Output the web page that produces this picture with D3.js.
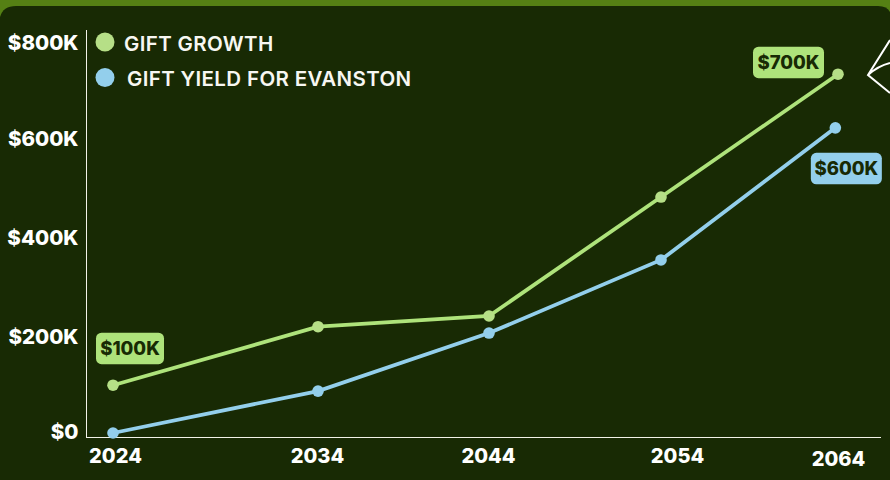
<!DOCTYPE html>
<html>
<head>
<meta charset="utf-8">
<script src="https://cdn.jsdelivr.net/npm/d3@7"></script>
<style>
  body { margin: 0; background: #558014; }
  svg { display: block; font-family: Inter, sans-serif; }
</style>
</head>
<body>
<script>
const w = 890;
const h = 480;

const years = [2024, 2034, 2044, 2054, 2064];
// the reference spaces its years unevenly, so the scale keeps a stop per year
const yearStops = [113, 318, 489, 661, 838];

const giftGrowth = [98, 218, 240, 484, 736];
const giftYield = [0, 86, 205, 355, 626];
const giftYieldYears = [2024, 2034, 2044, 2054, 2063.85];

const yTicks = [0, 200, 400, 600, 800];
const yTickLabels = ["$0", "$200K", "$400K", "$600K", "$800K"];

const seriesNames = ["GIFT GROWTH", "GIFT YIELD FOR EVANSTON"];

const green = "#aee37b";
const greenDot = "#b6df87";
const blue = "#93cfec";
const dark = "#182a04";

const svg = d3.select("body")
  .append("svg")
  .attr("width", w)
  .attr("height", h);

// panel with rounded top corners under the green band
svg.append("path")
  .attr("d", "M0,480 V17 Q3,6 16,6 H878 Q887,6 890,12 V480 Z")
  .attr("fill", dark);

const x = d3.scaleLinear().domain(years).range(yearStops);
const y = d3.scaleLinear().domain([0, 800]).range([433, 43]);

const line = d3.line()
  .x(d => x(d[0]))
  .y(d => y(d[1]));

const growthPts = years.map((yr, i) => [yr, giftGrowth[i]]);
const yieldPts = giftYieldYears.map((yr, i) => [yr, giftYield[i]]);

// axes
const xAxis = svg.append("g")
  .attr("transform", "translate(0,437.5)")
  .call(d3.axisBottom(x).tickValues(years).tickSize(0).tickFormat(d3.format("d")));
xAxis.select(".domain").remove();
const xNudge = [[2, 0], [-1, 0], [-1, 0], [16, 0], [0, 3]];
xAxis.selectAll("text")
  .attr("dx", (d, i) => xNudge[i][0])
  .attr("dy", (d, i) => xNudge[i][1])
  .attr("y", 10)
  .attr("dominant-baseline", "hanging")
  .attr("fill", "#fff")
  .style("font", "800 20px Inter, sans-serif");

const yAxis = svg.append("g")
  .attr("transform", "translate(86.5,0)")
  .call(d3.axisLeft(y).tickValues(yTicks).tickSize(0).tickPadding(8)
    .tickFormat((d, i) => yTickLabels[i]));
yAxis.select(".domain").remove();
const yNudge = [0, 2, 1, -1, 1];
yAxis.selectAll("text")
  .attr("dy", (d, i) => yNudge[i])
  .attr("dominant-baseline", "middle")
  .attr("fill", "#fff")
  .style("font", "800 20.5px Inter, sans-serif");

svg.append("line")
  .attr("x1", 86.5).attr("x2", 86.5)
  .attr("y1", 30).attr("y2", 437.5)
  .attr("stroke", "#f2f2e8");
svg.append("line")
  .attr("x1", 86).attr("x2", 881)
  .attr("y1", 437.5).attr("y2", 437.5)
  .attr("stroke", "#f2f2e8");

// lines and dots
[[growthPts, green, greenDot], [yieldPts, blue, blue]].forEach(([pts, col, dot]) => {
  svg.append("path")
    .attr("d", line(pts))
    .attr("fill", "none")
    .attr("stroke", col)
    .attr("stroke-width", 3.8);
  svg.append("g")
    .selectAll("circle")
    .data(pts)
    .enter()
    .append("circle")
    .attr("cx", d => x(d[0]))
    .attr("cy", d => y(d[1]))
    .attr("r", 5.8)
    .attr("fill", dot);
});

// value badges
const badges = [
  { text: "$100K", pt: growthPts[0], dx: -17, dy: -52.5, w: 68, col: green },
  { text: "$700K", pt: growthPts[4], dx: -85, dy: -27.5, w: 71, col: green },
  { text: "$600K", pt: yieldPts[4], dx: -24.5, dy: 25, w: 71, col: blue }
];
const badge = svg.append("g")
  .selectAll("g")
  .data(badges)
  .enter()
  .append("g")
  .attr("transform", d => "translate(" + (x(d.pt[0]) + d.dx) + "," + (y(d.pt[1]) + d.dy) + ")");
badge.append("rect")
  .attr("width", d => d.w)
  .attr("height", 31.5)
  .attr("rx", 5.5)
  .attr("fill", d => d.col);
badge.append("text")
  .attr("x", d => d.w / 2)
  .attr("y", 17.5)
  .attr("text-anchor", "middle")
  .attr("dominant-baseline", "middle")
  .attr("fill", dark)
  .style("font", "800 18.5px Inter, sans-serif")
  .text(d => d.text);

// legend
const legend = svg.append("g")
  .selectAll("g")
  .data(seriesNames)
  .enter()
  .append("g");
legend.append("circle")
  .attr("cx", 105)
  .attr("cy", (d, i) => 42 + i * 35.5)
  .attr("r", 9.5)
  .attr("fill", (d, i) => i ? blue : greenDot);
legend.append("text")
  .attr("x", (d, i) => i ? 127 : 124)
  .attr("y", (d, i) => i ? 80.5 : 45)
  .attr("dominant-baseline", "middle")
  .attr("fill", "#f7f7f2")
  .style("font", "600 20.5px Inter, sans-serif")
  .style("letter-spacing", "0.36px")
  .text(d => d);

// corner decoration cut off by the right edge
svg.append("path")
  .attr("d", "M890,40 L868,75 L890,93 M868,75 Q878,66 890,63")
  .attr("fill", "none")
  .attr("stroke", "#fff")
  .attr("stroke-width", 2);
</script>
</body>
</html>
